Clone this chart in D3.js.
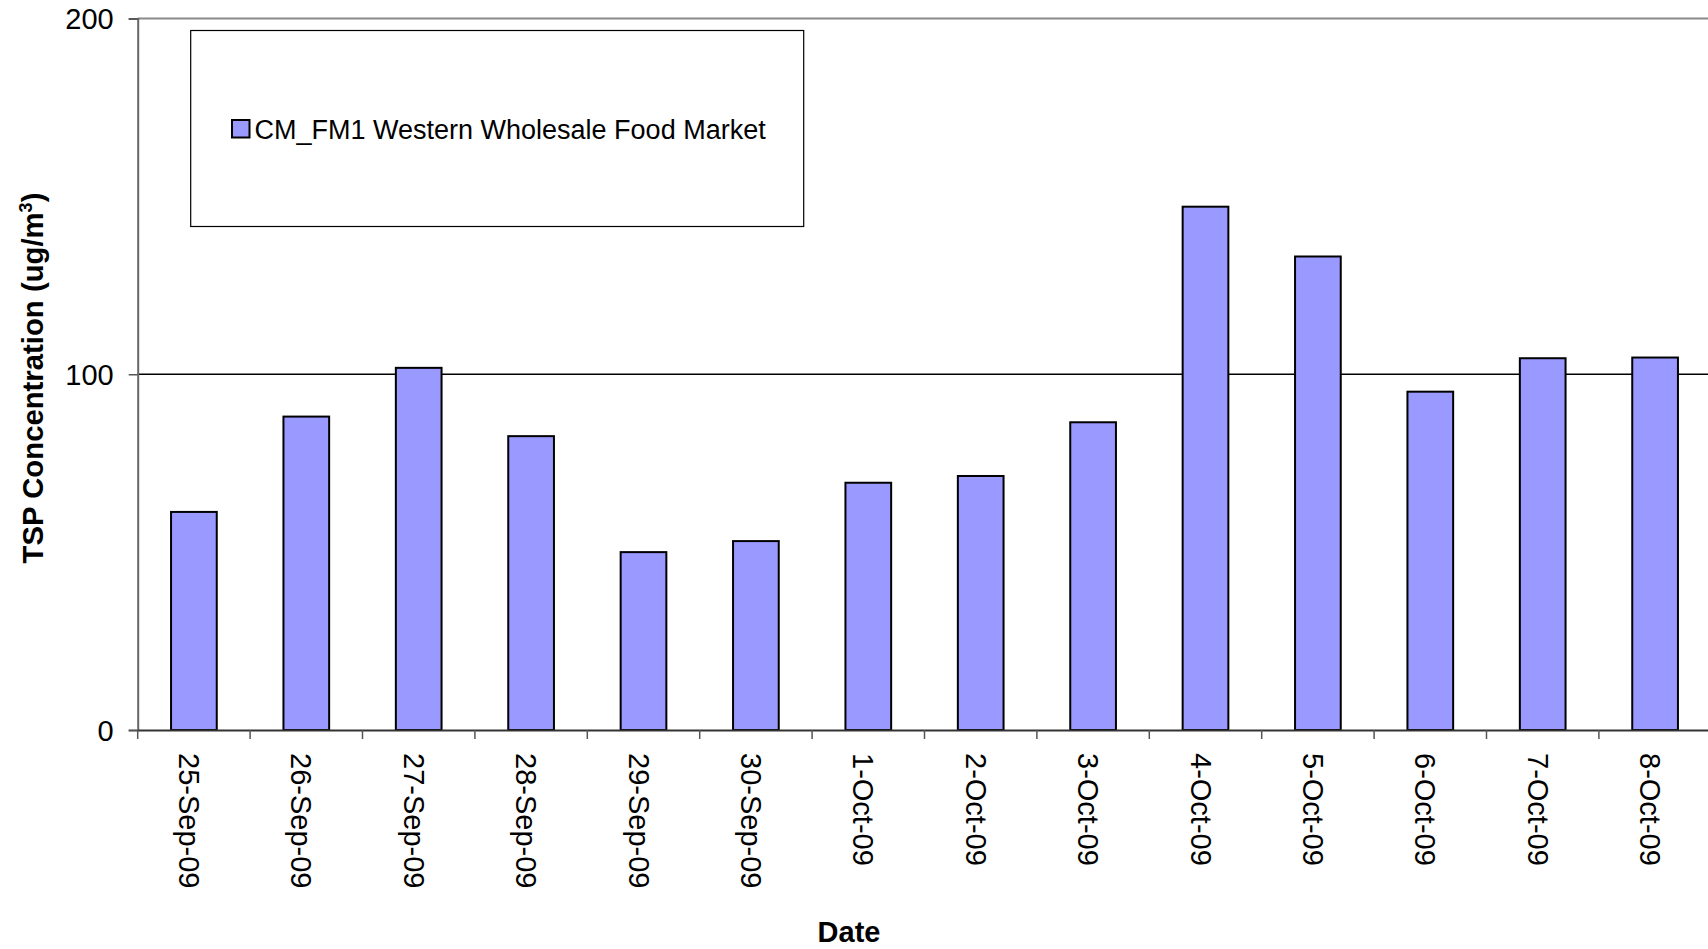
<!DOCTYPE html>
<html>
<head>
<meta charset="utf-8">
<script src="https://cdn.jsdelivr.net/npm/d3@7"></script>
<style>
  html, body { margin: 0; padding: 0; background: #fff; overflow: hidden; }
  svg { display: block; font-family: "Liberation Sans", Arial, sans-serif; }
</style>
</head>
<body>
<svg id="chart" width="1708" height="949"></svg>
<script>
const dates = ["25-Sep-09","26-Sep-09","27-Sep-09","28-Sep-09","29-Sep-09","30-Sep-09","1-Oct-09","2-Oct-09","3-Oct-09","4-Oct-09","5-Oct-09","6-Oct-09","7-Oct-09","8-Oct-09"];
const tspValues = [61.3, 88.1, 101.8, 82.6, 50.0, 53.1, 69.5, 71.4, 86.5, 147.1, 133.1, 95.1, 104.5, 104.7];
const yTicks = [0, 100, 200];
const seriesName = "CM_FM1 Western Wholesale Food Market";

(function () {
const svg = d3.select("#chart");
const plotLeft = 137.7, plotTop = 18.5, plotBottom = 730, step = 112.4;
const plotRight = plotLeft + step * dates.length;

const x = d3.scaleBand().domain(dates).range([plotLeft, plotRight]).padding(0);
const y = d3.scaleLinear().domain([0, 200]).range([plotBottom, plotTop]);
const barFrac = 0.4066;

// gridline at 100
svg.append("g").selectAll("line").data(yTicks.filter(t => t > 0 && t < 200)).join("line")
  .attr("x1", plotLeft).attr("x2", plotRight).attr("y1", d => y(d)).attr("y2", d => y(d))
  .attr("stroke", "#000").attr("stroke-width", 1.3);

// top border (plot area)
svg.append("line").attr("x1", plotLeft).attr("x2", plotRight).attr("y1", y(200)).attr("y2", y(200))
  .attr("stroke", "#8a8a8a").attr("stroke-width", 2);

// bars
const bw = x.bandwidth() * barFrac;
svg.append("g").selectAll("rect").data(dates).join("rect")
  .attr("x", d => x(d) + (x.bandwidth() - bw) / 2)
  .attr("width", bw)
  .attr("y", (d, i) => y(tspValues[i]))
  .attr("height", (d, i) => y(0) - y(tspValues[i]))
  .attr("fill", "#9999ff").attr("stroke", "#000").attr("stroke-width", 2);

// y axis
const yAxis = svg.append("g").attr("transform", `translate(${plotLeft},0)`)
  .call(d3.axisLeft(y).tickValues(yTicks).tickSize(9).tickPadding(15).tickFormat(d3.format("d")));
yAxis.select(".domain").attr("stroke", "#666").attr("stroke-width", 2);
yAxis.selectAll(".tick line").attr("stroke", "#555").attr("stroke-width", 1.5);
yAxis.selectAll(".tick text").attr("font-size", 29).attr("fill", "#000")
  .attr("font-family", "'Liberation Sans', Arial, sans-serif").attr("dy", "0.35em");

// x axis
const xAxis = svg.append("g").attr("transform", `translate(0,${plotBottom})`)
  .call(d3.axisBottom(x).tickSize(0).tickPadding(0));
xAxis.select(".domain").attr("stroke", "#333").attr("stroke-width", 2);
xAxis.selectAll(".tick text")
  .attr("font-size", 29).attr("fill", "#000")
  .attr("font-family", "'Liberation Sans', Arial, sans-serif")
  .attr("text-anchor", "start")
  .attr("transform", "translate(0,23) rotate(90)")
  .attr("x", 0).attr("y", 15).attr("dy", 0);

// boundary ticks on x axis
const bounds = dates.map(d => x(d)).concat([plotRight]);
svg.append("g").selectAll("line").data(bounds).join("line")
  .attr("x1", d => d).attr("x2", d => d).attr("y1", plotBottom).attr("y2", plotBottom + 9)
  .attr("stroke", "#555").attr("stroke-width", 1.5);

// axis titles
svg.append("text").attr("x", 849).attr("y", 942).attr("text-anchor", "middle")
  .attr("font-size", 29).attr("font-weight", "bold").text("Date");

const yt = svg.append("text").attr("transform", "translate(43,378) rotate(-90)")
  .attr("text-anchor", "middle").attr("font-size", 29.3).attr("font-weight", "bold");
yt.append("tspan").text("TSP Concentration (ug/m");
yt.append("tspan").attr("font-size", 18).attr("dy", -11).text("3");
yt.append("tspan").attr("dy", 11).text(")");

// legend
const lg = svg.append("g");
lg.append("rect").attr("x", 190.7).attr("y", 30.5).attr("width", 613).attr("height", 196)
  .attr("fill", "#fff").attr("stroke", "#000").attr("stroke-width", 1.2);
lg.append("rect").attr("x", 232).attr("y", 120).attr("width", 17.5).attr("height", 17.5)
  .attr("fill", "#9999ff").attr("stroke", "#000").attr("stroke-width", 2);
lg.append("text").attr("x", 254.5).attr("y", 138.5).attr("font-size", 27).text(seriesName);
})();
</script>
</body>
</html>
